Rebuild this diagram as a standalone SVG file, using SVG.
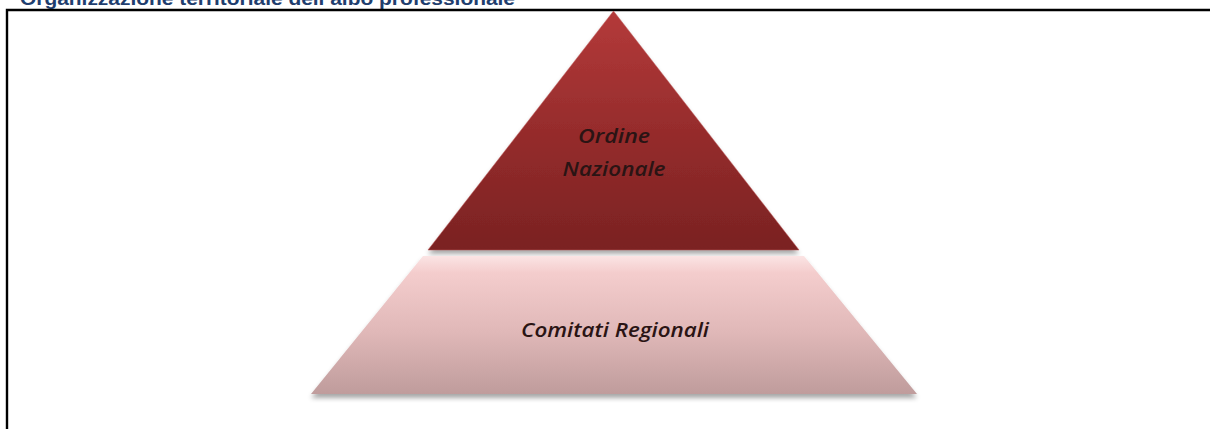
<svg xmlns="http://www.w3.org/2000/svg" width="1210" height="429" viewBox="0 0 1210 429">
<style>
.title{font-family:"Liberation Sans",Arial,sans-serif;font-weight:bold;font-size:18px;fill:#1f3e6e}
.lbl{font-family:"Open Sans","Liberation Sans",sans-serif;font-style:italic;font-weight:600;fill:#2a1414;text-anchor:middle}
.frame{stroke:#000;stroke-width:2.4;fill:none}
</style>
<defs>
<linearGradient id="gTop" x1="0" y1="0" x2="0" y2="1">
<stop offset="0" stop-color="#b43a3a"/>
<stop offset="0.5" stop-color="#962c2c"/>
<stop offset="1" stop-color="#7a2222"/>
</linearGradient>
<linearGradient id="gBot" x1="0" y1="0" x2="0" y2="1">
<stop offset="0" stop-color="#fbe4e4"/>
<stop offset="0.12" stop-color="#f4cdcd"/>
<stop offset="0.55" stop-color="#e0b8b8"/>
<stop offset="1" stop-color="#bf9c9c"/>
</linearGradient>
<filter id="sh" x="-10%" y="-10%" width="120%" height="130%">
<feGaussianBlur in="SourceAlpha" stdDeviation="2.5"/>
<feOffset dy="4"/>
<feComponentTransfer><feFuncA type="linear" slope="0.35"/></feComponentTransfer>
<feMerge><feMergeNode/><feMergeNode in="SourceGraphic"/></feMerge>
</filter>
</defs>
<text class="title" x="20" y="5" textLength="495" lengthAdjust="spacingAndGlyphs">Organizzazione territoriale dell’albo professionale</text>
<path class="frame" d="M1210,10 H7 V429"/>
<g id="ordine-nazionale">
<path d="M613.5,11 L799,250 L428,250 Z" fill="url(#gTop)" filter="url(#sh)"/>
<path d="M613.5,11 L799,250 L428,250 Z" fill="none" stroke="#c25a5a" stroke-opacity="0.5" stroke-width="1"/>
<text class="lbl" x="614" y="143" font-size="19" textLength="72" lengthAdjust="spacingAndGlyphs">Ordine</text>
<text class="lbl" x="614" y="176" font-size="19" textLength="103" lengthAdjust="spacingAndGlyphs">Nazionale</text>
</g>
<g id="comitati-regionali">
<path d="M423,256 L804,256 L917,394 L311,394 Z" fill="url(#gBot)" filter="url(#sh)"/>
<text class="lbl" x="615" y="337" font-size="20" textLength="188" lengthAdjust="spacingAndGlyphs">Comitati Regionali</text>
</g>
<g id="connectors"/>
</svg>
